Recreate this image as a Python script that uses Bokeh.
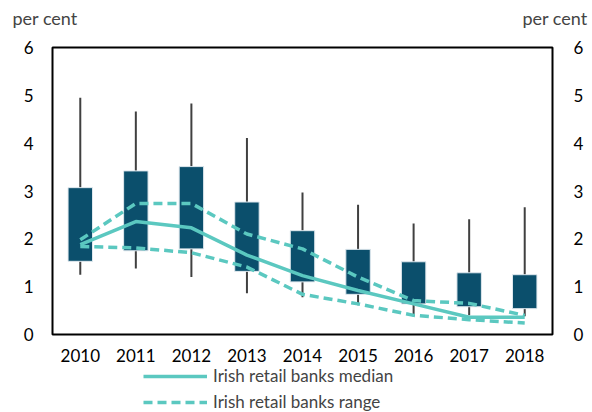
from bokeh.plotting import figure
from bokeh.layouts import column
from bokeh.models import ColumnDataSource, LinearAxis, Range1d, FactorRange, Legend, LegendItem, Label, FixedTicker
from bokeh.embed import file_html
from bokeh.resources import INLINE

years = ["2010", "2011", "2012", "2013", "2014", "2015", "2016", "2017", "2018"]
whisker_high = [4.95, 4.66, 4.83, 4.11, 2.97, 2.71, 2.32, 2.41, 2.66]
box_high = [3.07, 3.42, 3.51, 2.77, 2.17, 1.78, 1.52, 1.29, 1.25]
box_low = [1.53, 1.75, 1.79, 1.32, 1.10, 0.84, 0.64, 0.58, 0.54]
whisker_low = [1.25, 1.38, 1.20, 0.86, 0.78, 0.61, 0.38, 0.40, 0.38]
median = [1.88, 2.36, 2.23, 1.66, 1.23, 0.92, 0.64, 0.36, 0.36]
range_high = [1.98, 2.74, 2.74, 2.10, 1.79, 1.20, 0.71, 0.65, 0.40]
range_low = [1.84, 1.81, 1.71, 1.41, 0.84, 0.64, 0.40, 0.31, 0.24]
y_ticks = [0, 1, 2, 3, 4, 5, 6]
unit_label = "per cent"

FONT = "Lato"
BOX = "#0B4F6C"
TEAL = "#5BC8C0"
W = 592


def strip(height):
    f = figure(width=W, height=height, x_range=Range1d(0, W), y_range=Range1d(0, height),
               output_backend="svg", toolbar_location=None, frame_align=False,
               min_border_left=0, min_border_right=0, min_border_top=0, min_border_bottom=0)
    f.axis.visible = False
    f.grid.visible = False
    f.outline_line_color = None
    return f


# header strip with the unit labels
h = strip(38)
h.add_layout(Label(x=12, y=21, text=unit_label, text_font=FONT, text_font_size="18px",
                   text_baseline="middle", text_align="left"))
h.add_layout(Label(x=587, y=21, text=unit_label, text_font=FONT, text_font_size="18px",
                   text_baseline="middle", text_align="right"))

src = ColumnDataSource(dict(year=years, wh=whisker_high, bh=box_high, bl=box_low, wl=whisker_low,
                            med=median, rh=range_high, rl=range_low))

p = figure(width=W, height=326, x_range=FactorRange(*years), y_range=Range1d(0, 6),
           output_backend="svg", toolbar_location=None, frame_align=False,
           min_border_left=52, min_border_right=40, min_border_top=9, min_border_bottom=30)
p.xgrid.visible = False
p.ygrid.visible = False
p.outline_line_color = "black"
p.outline_line_width = 2
p.outline_line_alpha = 1

p.segment(x0="year", y0="wl", x1="year", y1="wh", source=src, line_color="#404040", line_width=2)
p.vbar(x="year", top="bh", bottom="bl", width=0.44, source=src, fill_color=BOX, line_color="#dfe8ee", line_width=1)
p.line(x="year", y="med", source=src, line_color=TEAL, line_width=3.5)
p.line(x="year", y="rh", source=src, line_color=TEAL, line_width=3.5, line_dash="9 5")
p.line(x="year", y="rl", source=src, line_color=TEAL, line_width=3.5, line_dash="9 5")


def style_axis(ax):
    ax.axis_line_color = None
    ax.major_tick_line_color = None
    ax.minor_tick_line_color = None
    ax.major_tick_out = 0
    ax.major_tick_in = 0
    ax.minor_tick_out = 0
    ax.major_label_text_font = FONT
    ax.major_label_text_font_size = "17px"
    ax.major_label_text_color = "black"


p.yaxis.ticker = FixedTicker(ticks=y_ticks)
style_axis(p.yaxis[0])
p.yaxis.major_label_standoff = 19
style_axis(p.xaxis[0])
p.xaxis.major_label_standoff = 14

ra = LinearAxis(ticker=FixedTicker(ticks=y_ticks))
style_axis(ra)
ra.major_label_standoff = 21
p.add_layout(ra, "right")

# legend strip below the chart
q = strip(48)
l_med = q.line(x=[-10, -9], y=[-10, -10], line_color=TEAL, line_width=3.5)
l_rng = q.line(x=[-10, -9], y=[-10, -10], line_color=TEAL, line_width=3.5, line_dash="9 5")
legend = Legend(items=[LegendItem(label="Irish retail banks median", renderers=[l_med]),
                       LegendItem(label="Irish retail banks range", renderers=[l_rng])],
                location=(143, 0), orientation="vertical", glyph_width=64, glyph_height=18,
                label_text_font=FONT, label_text_font_size="17px", spacing=5, padding=0,
                margin=0, border_line_color=None, background_fill_alpha=0, label_standoff=6)
q.add_layout(legend, "center")

open("out.html", "w").write(file_html(column(h, p, q), INLINE))
